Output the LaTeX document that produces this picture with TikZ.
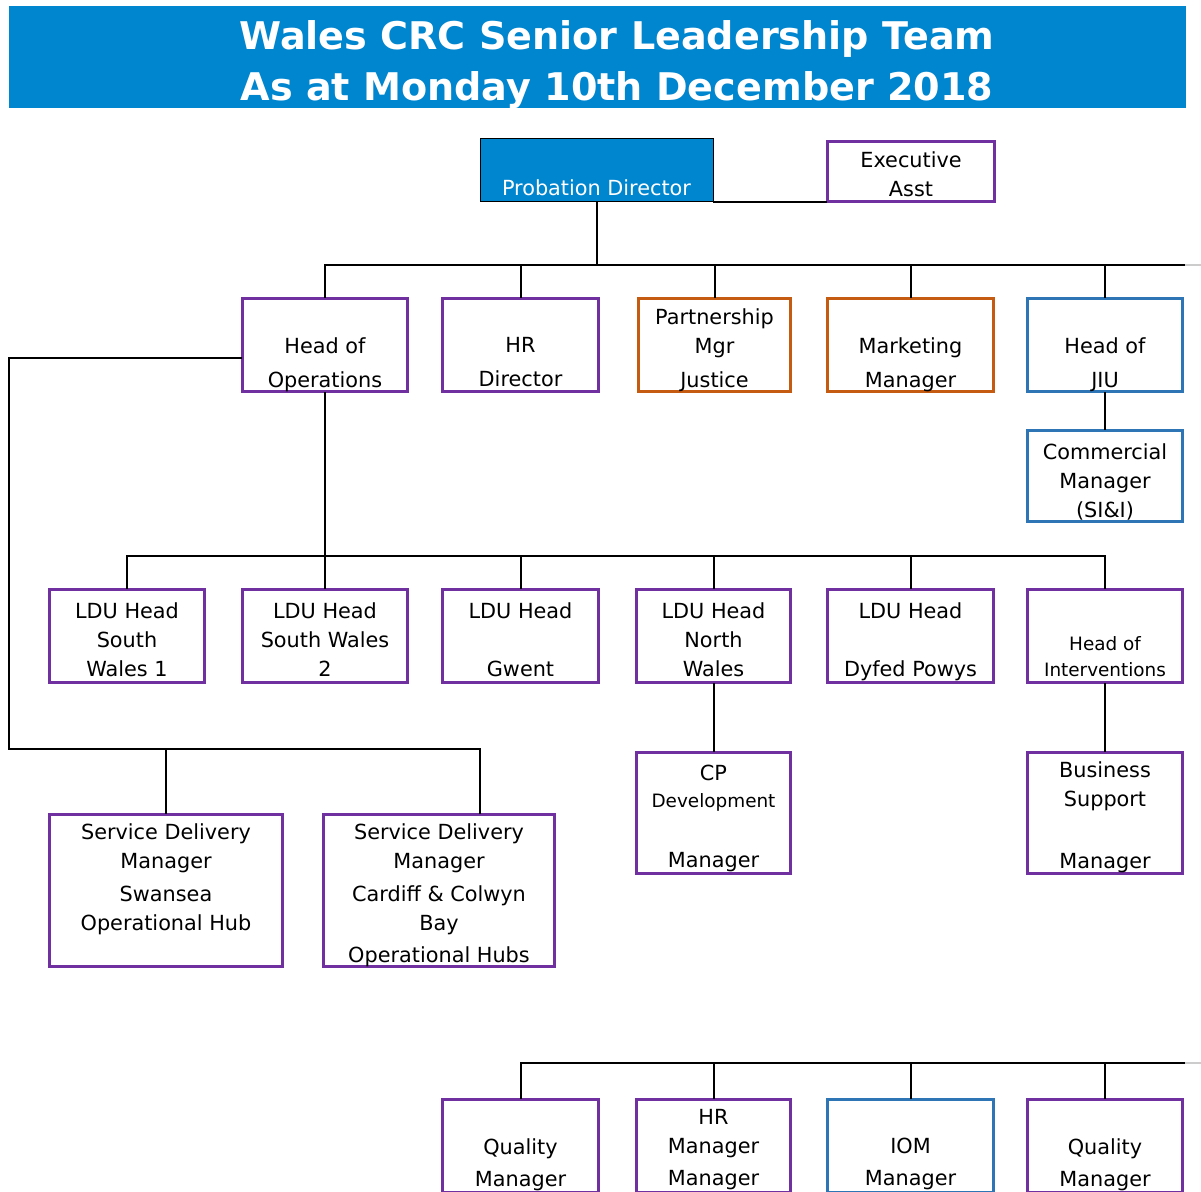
\documentclass[tikz,border=0pt]{standalone}
\usepackage{fontspec}
\setmainfont{DejaVu Sans}
\definecolor{bannerblue}{RGB}{0,133,207}
\definecolor{slpurple}{RGB}{112,48,160}
\definecolor{slorange}{RGB}{197,90,17}
\definecolor{slblue}{RGB}{46,117,182}
\newcommand{\boxfont}{\fontsize{15.6}{21.75}\selectfont}
\newcommand{\smallboxfont}{\fontsize{13.8}{19.5}\selectfont}
\newcommand{\bannerfont}{\fontsize{28.6}{38.25}\bfseries\selectfont}
\def\px{0.75pt}
\tikzset{
  post/.style={draw=#1, line width=2.6pt, inner sep=0pt},
  post/.default=slpurple,
  txt/.style={anchor=north, align=center, inner sep=0pt, font=\boxfont, yshift=-3.75pt,
    execute at begin node=\strut, execute at end node=\strut},
  link/.style={line width=1.5pt, line cap=rect},
}
\begin{document}
\begin{tikzpicture}[x=0.75pt,y=-0.75pt]
  \useasboundingbox (0,0) rectangle (1201,1191);
  \clip (0,0) rectangle (1201,1191);
  % banner
  \node[fill=bannerblue, minimum width=1177*\px, minimum height=102*\px] (banner) at (597.5,57) {};
  \node[txt, font=\bannerfont, text=white] (title) at (617,15) 
    {Wales CRC Senior Leadership Team\\As at Monday 10th December 2018};
  % top
  \node[fill=bannerblue, draw=black, line width=0.75pt, minimum width=233*\px, minimum height=63*\px] (pd) at (596.5,170.5) {};
  \node[txt, text=white] (pd-t) at (596.5,170) {Probation Director};
  \node[post, minimum width=167*\px, minimum height=60*\px] (exec) at (911,171.5) {};
  \node[txt] (exec-t) at (911,146) {Executive\\Asst};
  % second row
  \node[post, minimum width=165*\px, minimum height=93*\px] (hops) at (325,345) {};
  \node[txt] (hops-t) at (325,332) {Head of\\[3.75pt]Operations};
  \node[post, minimum width=156*\px, minimum height=93*\px] (hrd) at (520.5,345) {};
  \node[txt] (hrd-t) at (520.5,332) {HR\\[3.75pt]Director};
  \node[post=slorange, minimum width=152*\px, minimum height=93*\px] (pmj) at (714.5,345) {};
  \node[txt] (pmj-t) at (714.5,303) {Partnership\\Mgr\\[3.75pt]Justice};
  \node[post=slorange, minimum width=166*\px, minimum height=93*\px] (mkt) at (910.5,345) {};
  \node[txt] (mkt-t) at (910.5,332) {Marketing\\[3.75pt]Manager};
  \node[post=slblue, minimum width=155*\px, minimum height=93*\px] (jiu) at (1105,345) {};
  \node[txt] (jiu-t) at (1105,332) {Head of\\[3.75pt]JIU};
  \node[post=slblue, minimum width=155*\px, minimum height=91*\px] (comm) at (1105,476) {};
  \node[txt] (comm-t) at (1105,438) {Commercial\\Manager\\(SI\&I)};
  % LDU row
  \node[post, minimum width=155*\px, minimum height=93*\px] (ldusw1) at (127,636) {};
  \node[txt] (ldusw1-t) at (127,597) {LDU Head\\South\\Wales 1};
  \node[post, minimum width=165*\px, minimum height=93*\px] (ldusw2) at (325,636) {};
  \node[txt] (ldusw2-t) at (325,597) {LDU Head\\South Wales\\2};
  \node[post, minimum width=156*\px, minimum height=93*\px] (ldugw) at (520.5,636) {};
  \node[txt] (ldugw-t) at (520.5,597) {LDU Head\\[21.75pt]Gwent};
  \node[post, minimum width=154*\px, minimum height=93*\px] (ldunw) at (713.5,636) {};
  \node[txt] (ldunw-t) at (713.5,597) {LDU Head\\North\\Wales};
  \node[post, minimum width=166*\px, minimum height=93*\px] (ldudp) at (910.5,636) {};
  \node[txt] (ldudp-t) at (910.5,597) {LDU Head\\[21.75pt]Dyfed Powys};
  \node[post, minimum width=155*\px, minimum height=93*\px] (hint) at (1105,636) {};
  \node[txt, font=\smallboxfont] (hint-t) at (1105,631.5) {Head of\\Interventions};
  % managers
  \node[post, minimum width=154*\px, minimum height=121*\px] (cpdm) at (713.5,813) {};
  \node[txt] (cpdm-t) at (713.5,760) {CP\\[-1.5pt]{\smallboxfont Development}\\[23pt]Manager};
  \node[post, minimum width=155*\px, minimum height=121*\px] (bsm) at (1105,813) {};
  \node[txt] (bsm-t) at (1105,756) {Business\\Support\\[24.75pt]Manager};
  \node[post, minimum width=233*\px, minimum height=152*\px] (sdmsw) at (166,890.5) {};
  \node[txt] (sdmsw-t) at (166,818) {Service Delivery\\Manager\\[3pt]Swansea\\Operational Hub};
  \node[post, minimum width=231*\px, minimum height=152*\px] (sdmcb) at (439,890.5) {};
  \node[txt] (sdmcb-t) at (439,818) {Service Delivery\\Manager\\[3pt]Cardiff \& Colwyn\\Bay\\[2.25pt]Operational Hubs};
  % bottom row
  \node[post, minimum width=156*\px, minimum height=93*\px] (qm1) at (520.5,1146) {};
  \node[txt] (qm1-t) at (520.5,1133) {Quality\\[2.25pt]Manager};
  \node[post, minimum width=154*\px, minimum height=93*\px] (hrm) at (713.5,1146) {};
  \node[txt] (hrm-t) at (713.5,1104) {HR\\Manager\\[2.25pt]Manager};
  \node[post=slblue, minimum width=166*\px, minimum height=93*\px] (iom) at (910.5,1146) {};
  \node[txt] (iom-t) at (910.5,1133) {IOM\\[2.25pt]Manager};
  \node[post, minimum width=155*\px, minimum height=93*\px] (qm2) at (1105,1146) {};
  \node[txt] (qm2-t) at (1105,1133) {Quality\\[2.25pt]Manager};
  % levels
  \coordinate (lv1) at (1186,265);
  \coordinate (lv2) at (0,556);
  \coordinate (lv3) at (9,749);
  \coordinate (lv4) at (1186,1063);
  % connectors
  \draw[link] (pd.south east) -- (pd.south east -| exec.west);
  \draw[link] (pd.south) -- (pd.south |- lv1);
  \draw[link] (hops.north) |- (lv1);
  \draw[link, gray!40] (lv1) -- (1201,265);
  \foreach \n in {hrd,pmj,mkt,jiu}
    \draw[link] (\n.north) -- (\n.north |- lv1);
  \draw[link] (jiu.south) -- (comm.north);
  \draw[link] (hops.south) -- (hops.south |- lv2);
  \draw[link] (ldusw1.north) |- (hint.north |- lv2) -- (hint.north);
  \foreach \n in {ldusw2,ldugw,ldunw,ldudp}
    \draw[link] (\n.north) -- (\n.north |- lv2);
  \draw[link] (ldunw.south) -- (cpdm.north);
  \draw[link] (hint.south) -- (bsm.north);
  \draw[link] (hops.west |- 0,358) -| (lv3) -| (sdmcb.north -| 480,0);
  \draw[link] (sdmsw.north) -- (sdmsw.north |- lv3);
  \draw[link] (qm1.north) |- (lv4);
  \draw[link, gray!40] (lv4) -- (1201,1063);
  \foreach \n in {hrm,iom,qm2}
    \draw[link] (\n.north) -- (\n.north |- lv4);
\end{tikzpicture}
\end{document}
